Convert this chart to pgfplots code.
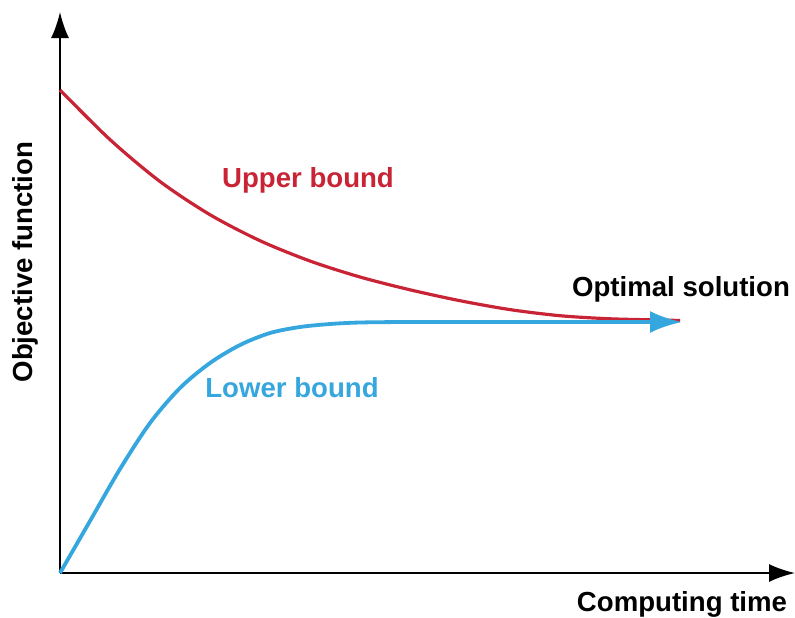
\documentclass[border=0pt]{standalone}
\usepackage{pgfplots}
\pgfplotsset{compat=1.18}
\usepackage{fontspec}
\setmainfont{Liberation Sans}
\usetikzlibrary{arrows.meta}
\definecolor{ubred}{RGB}{200,36,54}
\definecolor{lbblue}{RGB}{54,166,222}
\begin{document}
\begin{tikzpicture}
\path[use as bounding box] (-30pt,-22pt) rectangle (367.5pt,286.5pt);
\begin{axis}[
  at={(0,0)}, anchor=south west,
  scale only axis, width=367.5pt, height=280.5pt,
  xmin=0, xmax=735, ymin=0, ymax=561,
  axis lines=left,
  axis line style={line width=1pt, -{Latex[length=13pt,width=9pt]}},
  xtick=\empty, ytick=\empty,
  clip=false,
  font=\fontsize{13.8}{16}\selectfont\bfseries,
]
\addplot[ubred, line width=1.6pt, smooth] coordinates {
 (0,483) (50,433.4) (100,391.5) (150,358.3) (200,332.3) (250,312) (300,296)
 (350,283.2) (400,272.3) (450,263.4) (500,257.3) (550,254.2) (600,253) (620,252.5)
};
\addplot[lbblue, line width=1.9pt, smooth, -{Latex[length=16pt,width=11pt]}] coordinates {
 (0,0) (30,52) (60,104) (90,150) (120,185) (150,210) (180,228) (210,240)
 (240,246) (270,249) (300,250.5) (350,251) (450,251) (622,251)
};
\node[text=ubred] at (axis cs:248,393) {Upper bound};
\node[text=lbblue] at (axis cs:232,185) {Lower bound};
\node[text=black] at (axis cs:621,284) {Optimal solution};
\node[text=black] at (axis cs:622,-31) {Computing time};
\node[text=black, rotate=90] at (axis cs:-35,311) {Objective function};
\end{axis}
\end{tikzpicture}
\end{document}
